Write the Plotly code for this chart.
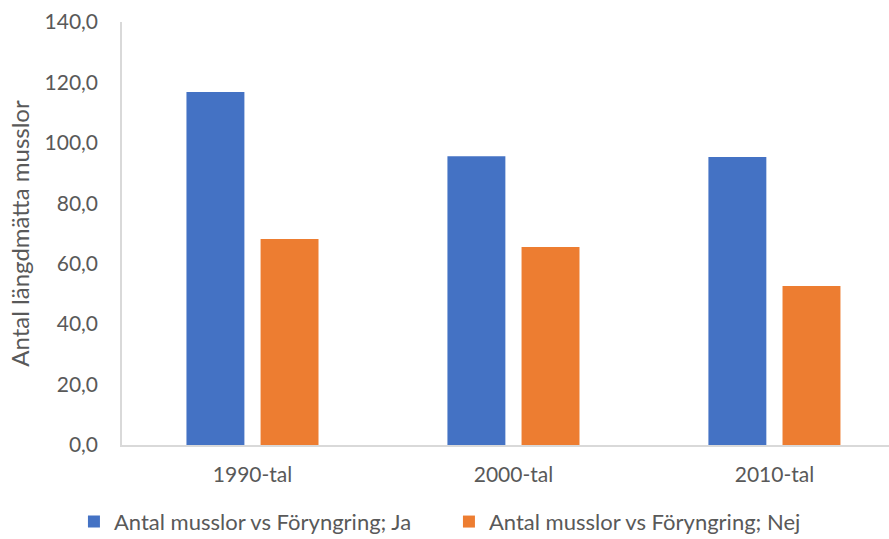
import plotly.graph_objects as go

# Decades on the category axis
decades = ["1990-tal", "2000-tal", "2010-tal"]

# Mussels measured, split by whether juvenile recruitment was found
ja_values = [116.8, 95.6, 95.3]
nej_values = [68.2, 65.5, 52.6]

series_names = [
    "Antal musslor vs Föryngring; Ja",
    "Antal musslor vs Föryngring; Nej",
]

y_ticks = [0, 20, 40, 60, 80, 100, 120, 140]

BLUE = "#4472C4"
ORANGE = "#ED7D31"
TEXT = "#595959"
AXIS = "#D9D9D9"
FONT = "Lato, Carlito, Calibri, sans-serif"

fig = go.Figure()
fig.add_trace(go.Bar(
    x=decades, y=ja_values, name=series_names[0],
    marker=dict(color=BLUE, line=dict(width=0)),
    width=0.222, offset=-0.253,
))
fig.add_trace(go.Bar(
    x=decades, y=nej_values, name=series_names[1],
    marker=dict(color=ORANGE, line=dict(width=0)),
    width=0.222, offset=0.031,
))

fig.update_layout(
    width=889, height=539,
    margin=dict(l=122, r=0, t=22, b=94),
    paper_bgcolor="white", plot_bgcolor="white",
    font=dict(family=FONT, size=21, color=TEXT),
    separators=", ",
    barmode="group",
    showlegend=True,
    legend=dict(
        orientation="h",
        xref="container", yref="container",
        x=0.505, xanchor="center",
        y=0.032, yanchor="middle",
        font=dict(size=22, color=TEXT),
        itemwidth=30,
        entrywidth=330, entrywidthmode="pixels",
        traceorder="normal",
    ),
)

fig.update_xaxes(
    type="category",
    range=[-0.5, 2.439],
    showline=True, linecolor=AXIS, linewidth=1.5,
    showgrid=False, ticks="",
    tickfont=dict(size=21, color=TEXT),
    ticklabelstandoff=10,
)

fig.update_yaxes(
    range=[0, 140],
    tickvals=y_ticks,
    tickformat=".1f",
    showline=True, linecolor=AXIS, linewidth=1.5,
    showgrid=False, zeroline=False, ticks="",
    tickfont=dict(size=21, color=TEXT),
    ticklabelstandoff=18,
    title=dict(text="Antal längdmätta musslor", font=dict(size=24, color=TEXT), standoff=8),
)

fig.write_html("out.html")
